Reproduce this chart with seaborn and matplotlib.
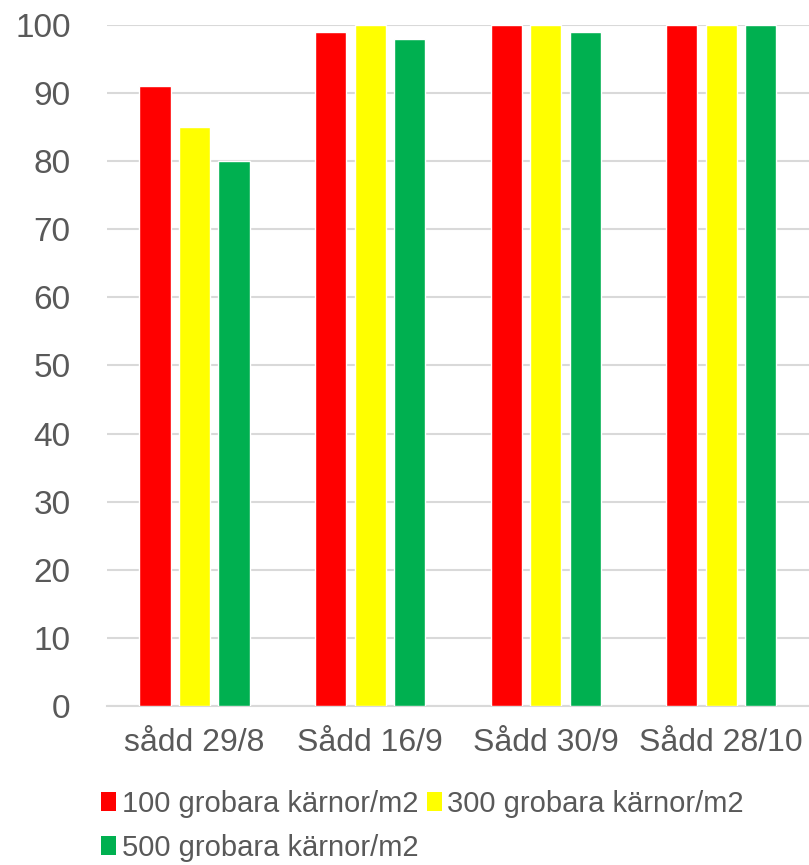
import numpy as np
import pandas as pd
import matplotlib.pyplot as plt
import seaborn as sns
from matplotlib.patches import Patch

# --- Data ---
categories = ["sådd 29/8", "Sådd 16/9", "Sådd 30/9", "Sådd 28/10"]
series_names = ["100 grobara kärnor/m2", "300 grobara kärnor/m2", "500 grobara kärnor/m2"]
vals_100 = [91, 99, 100, 100]
vals_300 = [85, 100, 100, 100]
vals_500 = [80, 98, 99, 100]
colors = ["#FF0000", "#FFFF00", "#00B050"]
y_ticks = [0, 10, 20, 30, 40, 50, 60, 70, 80, 90, 100]

df = pd.DataFrame({
    "kategori": categories * 3,
    "serie": [series_names[0]] * 4 + [series_names[1]] * 4 + [series_names[2]] * 4,
    "varde": vals_100 + vals_300 + vals_500,
})

sns.set_theme(style="white")
plt.rcParams["font.family"] = ["Liberation Sans", "DejaVu Sans"]
text_col = "#595959"
grid_col = "#D9D9D9"

fig = plt.figure(figsize=(8.09, 8.65), dpi=100)
ax = fig.add_axes([0.132, 0.184, 0.868, 0.787])

sns.barplot(data=df, x="kategori", y="varde", hue="serie", order=categories,
            hue_order=series_names, palette=colors, width=0.675, gap=0.21,
            saturation=1, errorbar=None, ax=ax, legend=False, zorder=3)

ax.set_ylim(0, 100)
ax.set_xlim(-0.5, 3.5)
ax.set_yticks(y_ticks)
ax.yaxis.grid(True, color=grid_col, linewidth=1.5, zorder=0)
ax.set_axisbelow(True)
for s in ["top", "right", "left"]:
    ax.spines[s].set_visible(False)
ax.spines["bottom"].set_color(grid_col)
ax.spines["bottom"].set_linewidth(1.5)
ax.set_xlabel("")
ax.set_ylabel("")
ax.tick_params(axis="y", length=0, pad=26, labelsize=24, labelcolor=text_col)
ax.tick_params(axis="x", length=0, pad=16, labelsize=23, labelcolor=text_col)

# legend fills row by row: 100, 300 on the first row, 500 on the second
handles = [Patch(facecolor=c, edgecolor="none") for c in colors]
order = [0, 2, 1]
fig.legend([handles[i] for i in order], [series_names[i] for i in order],
           loc="upper left", bbox_to_anchor=(0.125, 0.087),
           ncol=2, frameon=False, fontsize=21, labelcolor=text_col,
           handlelength=0.5, handleheight=0.6, handletextpad=0.2,
           columnspacing=0.3, labelspacing=0.55, borderpad=0, borderaxespad=0)

plt.savefig("out.png", dpi=100)
